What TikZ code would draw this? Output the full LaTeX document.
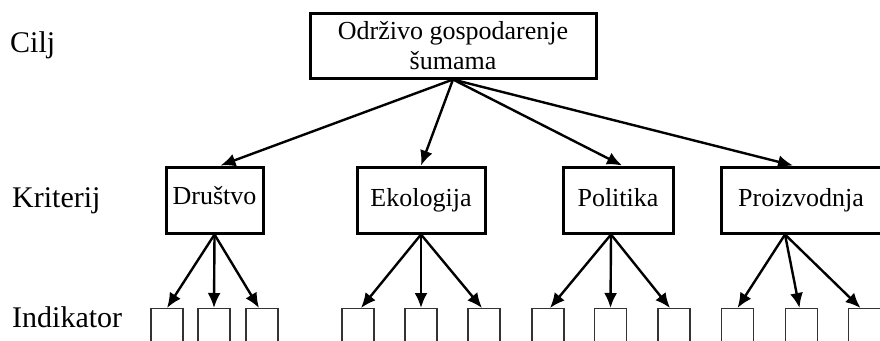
\documentclass[tikz,border=0pt]{standalone}
\usepackage{fontspec}
\setmainfont{Liberation Serif}
\usetikzlibrary{arrows.meta, positioning}

\begin{document}
\begin{tikzpicture}[x=1pt, y=-1pt]
    \tikzstyle{goal}=[draw, rectangle, line width=3pt, minimum width=286pt, minimum height=65pt, align=center, font=\fontsize{26}{30}\selectfont];
    \tikzstyle{crit}=[draw, rectangle, line width=3pt, minimum height=66pt, text height=18pt, text depth=6pt, inner xsep=2pt, font=\fontsize{26}{30}\selectfont];
    \tikzstyle{ind}=[draw=black!80, rectangle, line width=1.3pt, minimum width=32pt, minimum height=50pt, anchor=north];
    \tikzstyle{level}=[anchor=base west, inner sep=0pt, font=\fontsize{30}{36}\selectfont];
    \tikzstyle{link}=[-{Latex[length=15pt, width=13pt]}, line width=2.4pt];

    \useasboundingbox (0,0) rectangle (880,340);
    \clip (0,0) rectangle (880,340);

    % levels
    \node[level] (cilj) at (10,52) {Cilj};
    \node[level] (kriterij) at (12,207) {Kriterij};
    \node[level] (indikator) at (12,327) {Indikator};

    % goal and criteria
    \node[goal] (goal) at (453,45.5) {Održivo gospodarenje\\šumama};
    \node[crit, minimum width=97pt, text depth=9pt] (drustvo) at (214.5,200) {Društvo};
    \node[crit, minimum width=128pt] (ekologija) at (421,200) {Ekologija};
    \node[crit, minimum width=110pt] (politika) at (618,200) {Politika};
    \node[crit, minimum width=160pt] (proizv) at (801,200) {Proizvodnja};

    % indicators
    \node[ind] (d1) at (167,308) {};
    \node[ind] (d2) at (214,308) {};
    \node[ind] (d3) at (262,308) {};
    \node[ind] (e1) at (358,308) {};
    \node[ind] (e2) at (421,308) {};
    \node[ind] (e3) at (484,308) {};
    \node[ind] (p1) at (548,308) {};
    \node[ind] (p2) at (610.5,308) {};
    \node[ind] (p3) at (674,308) {};
    \node[ind] (r1) at (737.5,308) {};
    \node[ind] (r2) at (801.5,308) {};
    \node[ind] (r3) at (864.5,308) {};

    \path[link]
    (goal.south) edge ([xshift=6pt]drustvo.north)
    (goal.south) edge (ekologija.north)
    (goal.south) edge ([xshift=4pt]politika.north)
    (goal.south) edge ([xshift=-8pt]proizv.north)
    (drustvo.south) edge (d1.north)
    (drustvo.south) edge (d2.north)
    (drustvo.south) edge ([xshift=-3pt]d3.north)
    (ekologija.south) edge ([xshift=3pt]e1.north)
    (ekologija.south) edge (e2.north)
    (ekologija.south) edge ([xshift=-2pt]e3.north)
    ([xshift=-7pt]politika.south) edge ([xshift=2pt]p1.north)
    ([xshift=-7pt]politika.south) edge (p2.north)
    ([xshift=-7pt]politika.south) edge ([xshift=-4pt]p3.north)
    ([xshift=-16pt]proizv.south) edge (r1.north)
    ([xshift=-16pt]proizv.south) edge ([xshift=-2pt]r2.north)
    ([xshift=-16pt]proizv.south) edge ([xshift=-4pt]r3.north);
\end{tikzpicture}
\end{document}
